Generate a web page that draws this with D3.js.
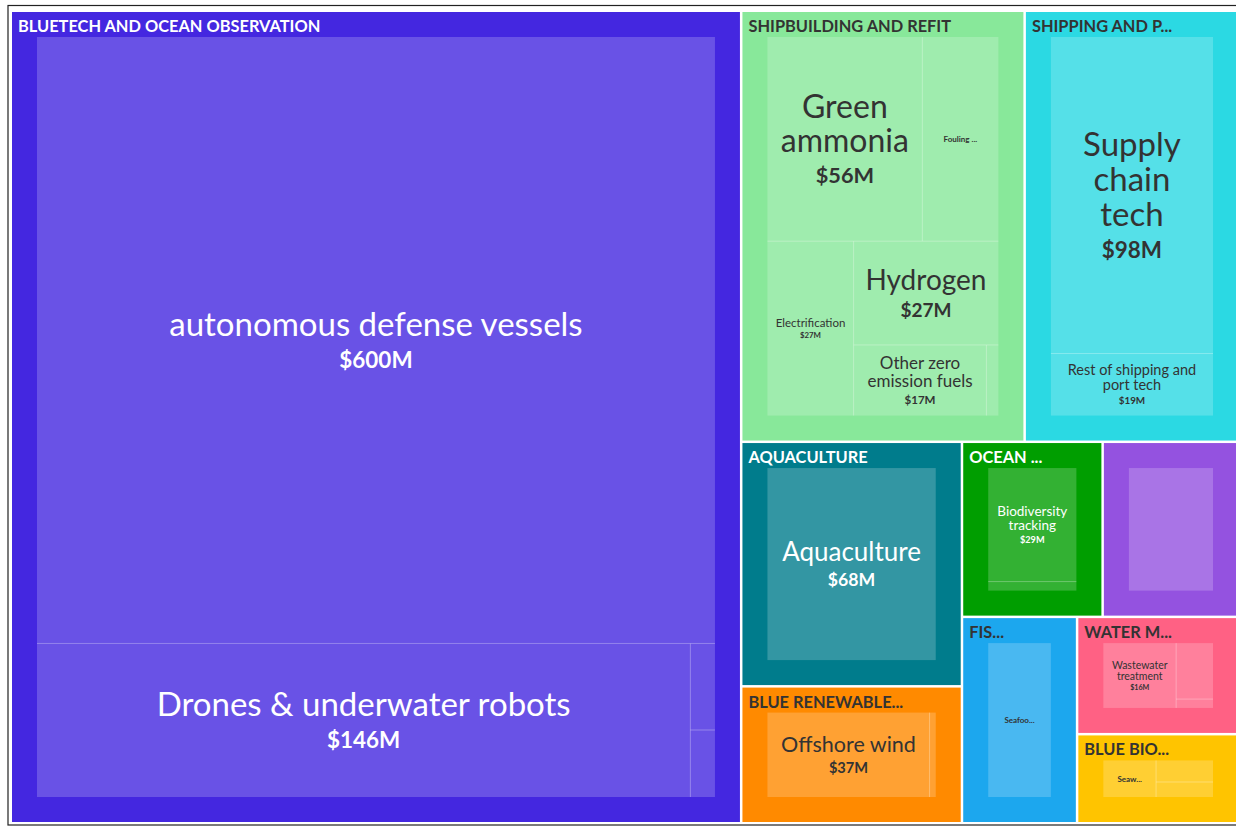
<!DOCTYPE html>
<html>
<head>
<meta charset="utf-8">
<script src="https://cdn.jsdelivr.net/npm/d3@7"></script>
<style>
  body { margin: 0; background: #fff; }
  text { font-family: Lato, "Source Sans Pro", sans-serif; }
</style>
</head>
<body>
<div id="chart"></div>
<script>
// sectors (top level of the treemap), as their headers read in the chart
const sectorNames = [
    "BLUETECH AND OCEAN OBSERVATION",
    "SHIPBUILDING AND REFIT",
    "SHIPPING AND P...",
    "AQUACULTURE",
    "BLUE RENEWABLE...",
    "OCEAN ...",
    "",
    "FIS...",
    "WATER M...",
    "BLUE BIO..."
];

// sub-sectors, the sector they belong to and the amount ($M)
const leafNames = [
    "autonomous defense vessels", "Drones & underwater robots", "", "",
    "Green ammonia", "Fouling countermeasures", "Electrification", "Hydrogen", "Other zero emission fuels", "",
    "Supply chain tech", "Rest of shipping and port tech",
    "Aquaculture",
    "Offshore wind", "",
    "Biodiversity tracking", "",
    "",
    "Seafood sustainability",
    "Wastewater treatment", "", "",
    "Seaweed farming", "", ""
];
const leafSector = [
    0, 0, 0, 0,
    1, 1, 1, 1, 1, 1,
    2, 2,
    3,
    4, 4,
    5, 5,
    6,
    7,
    8, 8, 8,
    9, 9, 9
];
const leafValues = [
    600, 146.4, 3.1, 2.4,
    56, 27.5, 26.6, 26.6, 16.6, 1.5,
    98, 19.2,
    68.4,
    36.9, 1.4,
    28.9, 2.3,
    30.3,
    30.1,
    16.0, 7.0, 1.1,
    8.8, 5.6, 3.9
];

// styling
const sectorColors = ["#4427e0", "#88e89a", "#2bd9e3", "#007c8c", "#ff8a00",
                      "#009e00", "#9452e0", "#1ca7ee", "#ff6184", "#ffc400"];
const width = 1236, height = 827;
const area = {x0: 12, y0: 12, x1: 1238, y1: 822};
const PAD = 25;          // space between a sector edge and its sub-sectors
const HEADER_FS = 16.4;
const MAX_FS = 33, MIN_FS = 9, VALUE_RATIO = 0.68;

const svg = d3.select("#chart").append("svg")
    .attr("width", width)
    .attr("height", height);

// frame round the chart
svg.append("rect")
    .attr("x", 8).attr("y", 5.5)
    .attr("width", 1240).attr("height", 819.5)
    .attr("fill", "none")
    .attr("stroke", "#222")
    .attr("stroke-width", 1.2);

const rootData = {
    name: "root",
    children: sectorNames.map((name, i) => ({
        name: name,
        index: i,
        children: leafNames
            .map((n, j) => ({name: n, value: leafValues[j], sector: leafSector[j]}))
            .filter(d => d.sector === i)
    }))
};

const root = d3.hierarchy(rootData)
    .sum(d => d.value || 0)
    .sort((a, b) => b.value - a.value);

d3.treemap()
    .tile(d3.treemapBinary)
    .size([area.x1 - area.x0, area.y1 - area.y0])
    .paddingInner(d => d.depth === 0 ? 2.5 : 0)
    .round(false)(root);

// text helpers
const ctx = document.createElement("canvas").getContext("2d");
function textWidth(str, size, weight) {
    ctx.font = weight + " " + size + "px Lato";
    return ctx.measureText(str).width;
}

function luminance(hex) {
    const c = d3.rgb(hex);
    const f = v => { v /= 255; return v <= 0.03928 ? v / 12.92 : Math.pow((v + 0.055) / 1.055, 2.4); };
    return 0.2126 * f(c.r) + 0.7152 * f(c.g) + 0.0722 * f(c.b);
}
const textColor = hex => luminance(hex) > 0.28 ? "#333" : "#fff";

const money = v => "$" + Math.round(v) + "M";

function wrapWords(name, size, maxW) {
    const words = name.split(" ");
    const lines = [];
    let line = "";
    for (const w of words) {
        if (textWidth(w, size, 400) > maxW) return null;
        const test = line ? line + " " + w : w;
        if (textWidth(test, size, 400) <= maxW) line = test;
        else { lines.push(line); line = w; }
    }
    lines.push(line);
    return lines;
}

// largest font size at which the name (wrapped) and the value fit in the box
function fitLabel(name, value, w, h) {
    const padX = Math.max(8, w * 0.08), padY = Math.max(8, h * 0.17);
    const aw = w - 2 * padX, ah = h - 2 * padY;
    for (let s = MAX_FS; s >= MIN_FS; s -= 0.5) {
        const lines = wrapWords(name, s, aw);
        if (!lines) continue;
        const vs = s * VALUE_RATIO;
        if (textWidth(money(value), vs, 700) > aw) continue;
        const hb = 0.72 * s + (lines.length - 1) * 1.05 * s + 0.97 * s;
        if (hb <= ah) return {s: s, vs: vs, lines: lines, hb: hb};
    }
    return null;
}

// a cut-down name for boxes too small for the full label
function shortLabel(name, w, h) {
    if (h < 30) return null;
    const maxW = w * 0.75;
    for (let n = name.length - 1; n >= 3; n--) {
        let t = name.slice(0, n);
        // never leave a lone letter of the next word
        const sp = t.lastIndexOf(" ");
        if (sp >= 0 && t.length - sp - 1 === 1) t = t.slice(0, sp + 1);
        t += "...";
        if (textWidth(t, 12, 700) <= maxW) return t;
    }
    return null;
}

const g = svg.append("g")
    .attr("transform", "translate(" + area.x0 + "," + area.y0 + ")");

const sectors = root.children;

sectors.forEach(p => {
    const color = sectorColors[p.data.index];
    const tc = textColor(color);
    const sg = g.append("g").attr("class", "sector");

    sg.append("rect")
        .attr("x", p.x0).attr("y", p.y0)
        .attr("width", p.x1 - p.x0).attr("height", p.y1 - p.y0)
        .attr("fill", color);

    if (p.data.name) {
        sg.append("text")
            .attr("x", p.x0 + 6)
            .attr("y", p.y0 + 20)
            .attr("font-size", HEADER_FS)
            .attr("font-weight", 700)
            .attr("fill", tc)
            .text(p.data.name);
    }

    // sub-sectors are laid out in the sector box, then fitted into the padded box
    const ib = {x0: p.x0 + PAD, y0: p.y0 + PAD, x1: p.x1 - PAD, y1: p.y1 - PAD};
    const sx = (ib.x1 - ib.x0) / (p.x1 - p.x0);
    const sy = (ib.y1 - ib.y0) / (p.y1 - p.y0);
    const leaves = p.children.map(l => ({
        node: l,
        x0: ib.x0 + (l.x0 - p.x0) * sx,
        x1: ib.x0 + (l.x1 - p.x0) * sx,
        y0: ib.y0 + (l.y0 - p.y0) * sy,
        y1: ib.y0 + (l.y1 - p.y0) * sy
    }));

    sg.selectAll("rect.leaf")
        .data(leaves)
        .join("rect")
        .attr("class", "leaf")
        .attr("x", d => d.x0).attr("y", d => d.y0)
        .attr("width", d => d.x1 - d.x0).attr("height", d => d.y1 - d.y0)
        .attr("fill", "#fff")
        .attr("fill-opacity", 0.2);

    // thin separators between sub-sectors
    leaves.forEach(d => {
        if (d.x0 > ib.x0 + 0.5) {
            sg.append("line")
                .attr("x1", d.x0).attr("x2", d.x0).attr("y1", d.y0).attr("y2", d.y1)
                .attr("stroke", "#fff").attr("stroke-opacity", 0.3).attr("stroke-width", 1);
        }
        if (d.y0 > ib.y0 + 0.5) {
            sg.append("line")
                .attr("x1", d.x0).attr("x2", d.x1).attr("y1", d.y0).attr("y2", d.y0)
                .attr("stroke", "#fff").attr("stroke-opacity", 0.3).attr("stroke-width", 1);
        }
    });

    leaves.forEach(d => {
        const name = d.node.data.name;
        if (!name) return;
        const w = d.x1 - d.x0, h = d.y1 - d.y0;
        const cx = (d.x0 + d.x1) / 2, cy = (d.y0 + d.y1) / 2;
        const fit = fitLabel(name, d.node.value, w, h);
        if (fit) {
            const L = 1.05 * fit.s;
            const b0 = cy - fit.hb / 2 + 0.72 * fit.s;
            const t = sg.append("text")
                .attr("text-anchor", "middle")
                .attr("fill", tc);
            fit.lines.forEach((line, i) => {
                t.append("tspan")
                    .attr("x", cx)
                    .attr("y", b0 + i * L)
                    .attr("font-size", fit.s)
                    .text(line);
            });
            t.append("tspan")
                .attr("x", cx)
                .attr("y", b0 + (fit.lines.length - 1) * L + 0.97 * fit.s)
                .attr("font-size", fit.vs)
                .attr("font-weight", 700)
                .text(money(d.node.value));
        } else {
            const sl = shortLabel(name, w, h);
            if (!sl) return;
            sg.append("text")
                .attr("x", cx)
                .attr("y", cy + 3)
                .attr("text-anchor", "middle")
                .attr("font-size", 8)
                .attr("font-weight", 700)
                .attr("fill", tc)
                .text(sl);
        }
    });
});
</script>
</body>
</html>
